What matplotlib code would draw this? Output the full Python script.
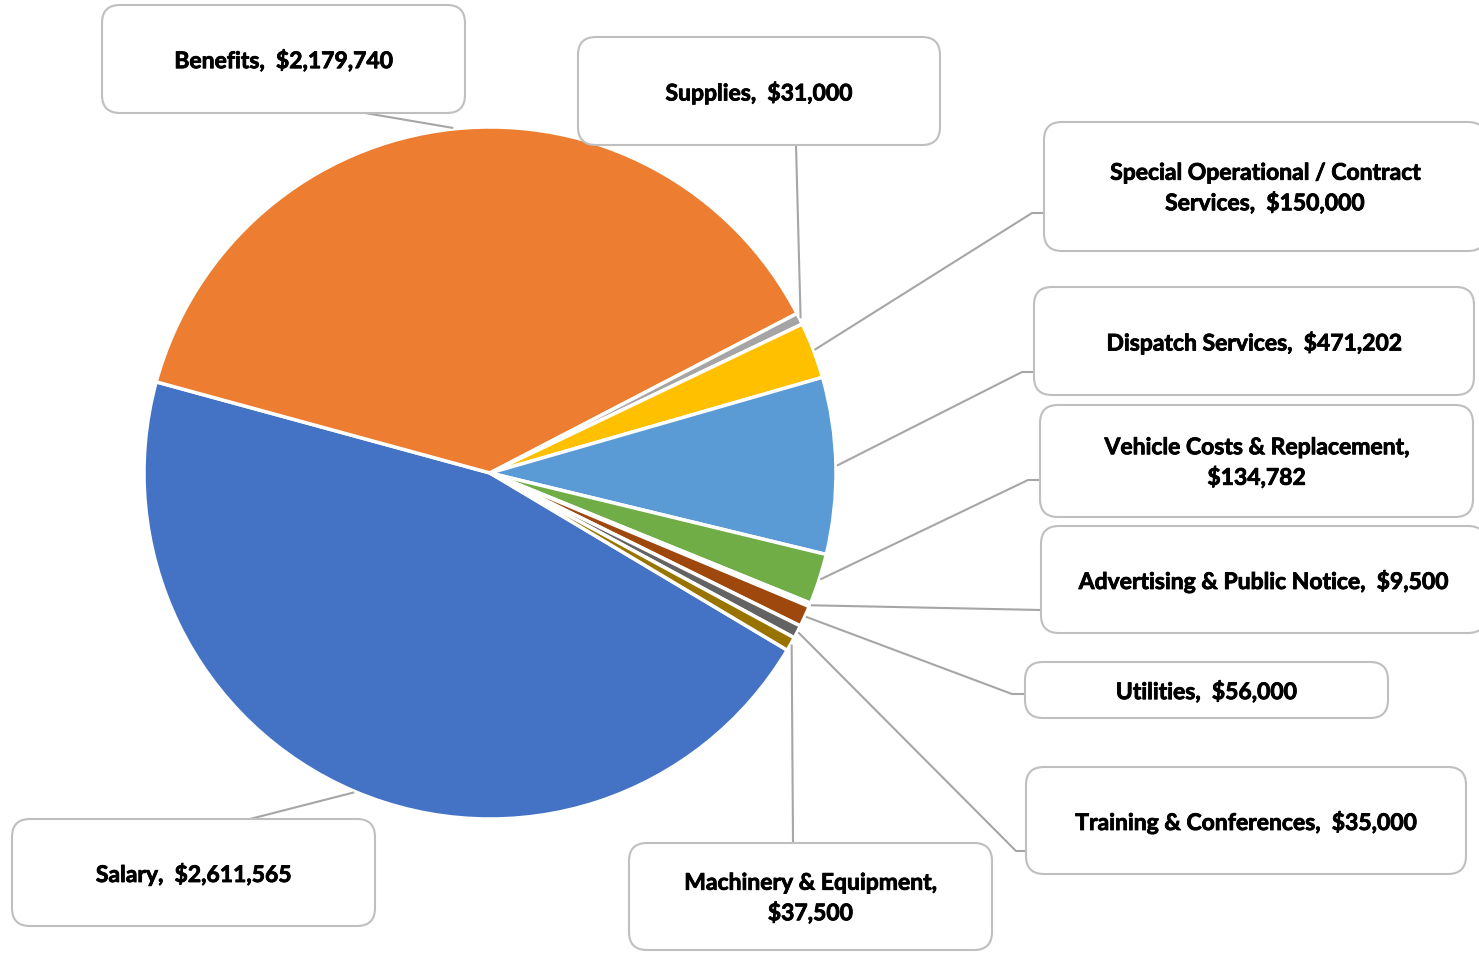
import numpy as np
import matplotlib
matplotlib.use("Agg")
import matplotlib.pyplot as plt
import matplotlib.patheffects as pe
from matplotlib.patches import FancyBboxPatch

# Budget categories and amounts (in pie order, clockwise)
categories = [
    "Salary", "Benefits", "Supplies", "Special Operational / Contract\nServices",
    "Dispatch Services", "Vehicle Costs & Replacement,\n", "Advertising & Public Notice",
    "Utilities", "Training & Conferences", "Machinery & Equipment,\n",
]
amounts = [2611565, 2179740, 31000, 150000, 471202, 134782, 9500, 56000, 35000, 37500]
colors = ["#4472C4", "#ED7D31", "#A5A5A5", "#FFC000", "#5B9BD5",
          "#70AD47", "#264478", "#9E480E", "#636363", "#997300"]

W, H = 1479, 956
fig = plt.figure(figsize=(W / 100, H / 100), dpi=100)
ax = fig.add_axes([0, 0, 1, 1])

cx, cy, R = 490, H - 473, 346
wedges, _ = ax.pie(amounts, colors=colors, startangle=-30.8, counterclock=False,
                   center=(cx, cy), radius=R, frame=True,
                   wedgeprops=dict(edgecolor="white", linewidth=2.5))
ax.set_xlim(0, W)
ax.set_ylim(0, H)
ax.set_aspect("equal")
ax.axis("off")

# Callout boxes: (left, top, right, bottom) in pixel coords, and leader path points
boxes = [
    (12, 819, 375, 926),
    (102, 5, 465, 113),
    (578, 37, 940, 145),
    (1044, 122, 1486, 251),
    (1034, 287, 1474, 395),
    (1040, 405, 1473, 517),
    (1041, 526, 1486, 633),
    (1025, 662, 1388, 718),
    (1026, 767, 1466, 874),
    (629, 843, 992, 950),
]
leaders = [
    [(250, 819)],
    [(365, 113)],
    [(796, 145)],
    [(1044, 213), (1032, 213)],
    [(1034, 372), (1022, 372)],
    [(1040, 480), (1028, 480)],
    [(1041, 610)],
    [(1025, 694), (1012, 694)],
    [(1026, 851), (1016, 851)],
    [(793, 843)],
]

line_col = "#A6A6A6"
for w, pts in zip(wedges, leaders):
    mid = np.deg2rad((w.theta1 + w.theta2) / 2)
    ex, ey = cx + (R + 1) * np.cos(mid), cy + (R + 1) * np.sin(mid)
    xs = [p[0] for p in pts] + [ex]
    ys = [H - p[1] for p in pts] + [ey]
    ax.plot(xs, ys, color=line_col, lw=1.5, solid_capstyle="butt", zorder=1)

for name, amt, (l, t, r, b) in zip(categories, amounts, boxes):
    patch = FancyBboxPatch((l, H - b), r - l, b - t,
                           boxstyle="round,pad=0,rounding_size=18",
                           facecolor="white", edgecolor="#BFBFBF", lw=1.5,
                           zorder=3, clip_on=False)
    ax.add_patch(patch)
    if name.endswith("\n"):
        label = f"{name}${amt:,}"
    else:
        label = f"{name},  ${amt:,}"
    ax.text((l + r) / 2, H - (t + b) / 2 - 2, label, ha="center", va="center",
            fontsize=16.5, fontweight="bold", family="Lato", color="black",
            linespacing=1.45, zorder=4,
            path_effects=[pe.withStroke(linewidth=0.6, foreground="black")])

fig.savefig("out.png", dpi=100, facecolor="white")
